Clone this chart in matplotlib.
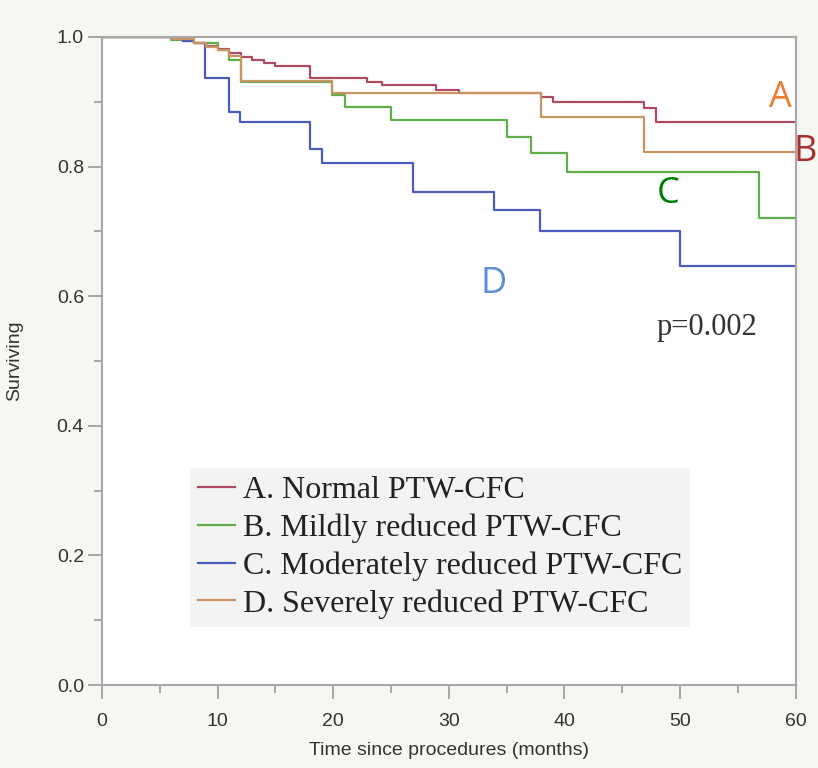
import matplotlib
matplotlib.use('Agg')
import matplotlib.pyplot as plt
from matplotlib.ticker import MultipleLocator

# step data (time in months, survival after step)
t_a = [0, 6, 7, 8, 9, 10, 11, 12, 13, 14, 15, 18, 22.9, 24.2, 28.9, 30.9, 38, 39, 46.9, 47.9, 60]
s_a = [1.0, 0.997, 0.993, 0.990, 0.986, 0.982, 0.975, 0.969, 0.964, 0.960, 0.955, 0.936, 0.931,
       0.926, 0.918, 0.914, 0.907, 0.900, 0.891, 0.868, 0.868]

t_b = [0, 6, 8, 10, 11, 12, 19.9, 21, 25, 35, 37.1, 40.2, 56.8, 60]
s_b = [1.0, 0.995, 0.990, 0.980, 0.965, 0.931, 0.911, 0.892, 0.872, 0.846, 0.821, 0.792, 0.720, 0.720]

t_c = [0, 6, 7, 8, 8.9, 11.0, 11.9, 18.0, 19.0, 26.9, 33.9, 37.9, 50.0, 60]
s_c = [1.0, 0.997, 0.993, 0.990, 0.937, 0.884, 0.869, 0.827, 0.806, 0.760, 0.733, 0.700, 0.647, 0.647]

t_d = [0, 6, 8, 9, 10, 11, 12, 19.9, 38, 46.9, 60]
s_d = [1.0, 0.997, 0.990, 0.985, 0.980, 0.970, 0.932, 0.913, 0.877, 0.823, 0.823]

labels = ['A. Normal PTW-CFC', 'B. Mildly reduced PTW-CFC',
          'C. Moderately reduced PTW-CFC', 'D. Severely reduced PTW-CFC']
colors = ['#b04a62', '#62ad4c', '#4a5cc0', '#c99462']

# letters written on the figure
marks = ['A', 'B', 'C', 'D']
mark_t = [58.7, 60.8, 49.0, 33.9]
mark_s = [0.906, 0.823, 0.757, 0.618]
mark_colors = ['#ed7d31', '#a5302f', '#008000', '#5b8fd6']

bg = '#f6f6f3'
sans = ['Liberation Sans Narrow', 'Liberation Sans', 'DejaVu Sans']
serif = ['Liberation Serif', 'DejaVu Serif']

fig = plt.figure(figsize=(8.18, 7.68), dpi=100, facecolor=bg)
ax = fig.add_axes([0.1247, 0.108, 0.848, 0.844])
ax.set_facecolor('white')

for t, s, c, lab in zip([t_a, t_b, t_c, t_d], [s_a, s_b, s_c, s_d], colors, labels):
    ax.step(t, s, where='post', color=c, lw=1.6, label=lab)

ax.set_xlim(0, 60)
ax.set_ylim(0, 1.0)
ax.xaxis.set_major_locator(MultipleLocator(10))
ax.xaxis.set_minor_locator(MultipleLocator(5))
ax.yaxis.set_major_locator(MultipleLocator(0.2))
ax.yaxis.set_minor_locator(MultipleLocator(0.1))
ax.yaxis.set_major_formatter(matplotlib.ticker.FormatStrFormatter('%.1f'))
ax.tick_params(which='major', length=10, width=1.2, color='#999999', labelsize=14,
               labelcolor='#333333', pad=3)
ax.tick_params(which='minor', length=6, width=1.2, color='#999999')
ax.tick_params(axis='x', which='major', pad=10)
for lbl in ax.get_xticklabels() + ax.get_yticklabels():
    lbl.set_family(sans)
for sp in ax.spines.values():
    sp.set_color('#a8a8a8')
    sp.set_linewidth(1.5)

ax.set_ylabel('Surviving', fontsize=14, family=sans, color='#333333', labelpad=24)
ax.set_xlabel('Time since procedures (months)', fontsize=14, family=sans,
              color='#333333', labelpad=9)

for m, tt, ss, c in zip(marks, mark_t, mark_s, mark_colors):
    ax.text(tt, ss, m, color=c, fontsize=26, family=['Open Sans', 'DejaVu Sans'],
            ha='center', va='center', clip_on=False)

ax.text(52.3, 0.552, 'p=0.002', fontsize=22, family=serif, color='#333333',
        ha='center', va='center')

leg = ax.legend(loc='upper left', bbox_to_anchor=(0.127, 0.335), frameon=True,
                prop={'family': serif, 'size': 23}, handlelength=1.15,
                handletextpad=0.25, labelspacing=0.26, borderpad=0.25,
                borderaxespad=0, facecolor='#f3f3f1', edgecolor='none', fancybox=False)
leg.get_frame().set_alpha(1)
for txt in leg.get_texts():
    txt.set_color('#222222')

fig.savefig('out.png', dpi=100, facecolor=bg)
